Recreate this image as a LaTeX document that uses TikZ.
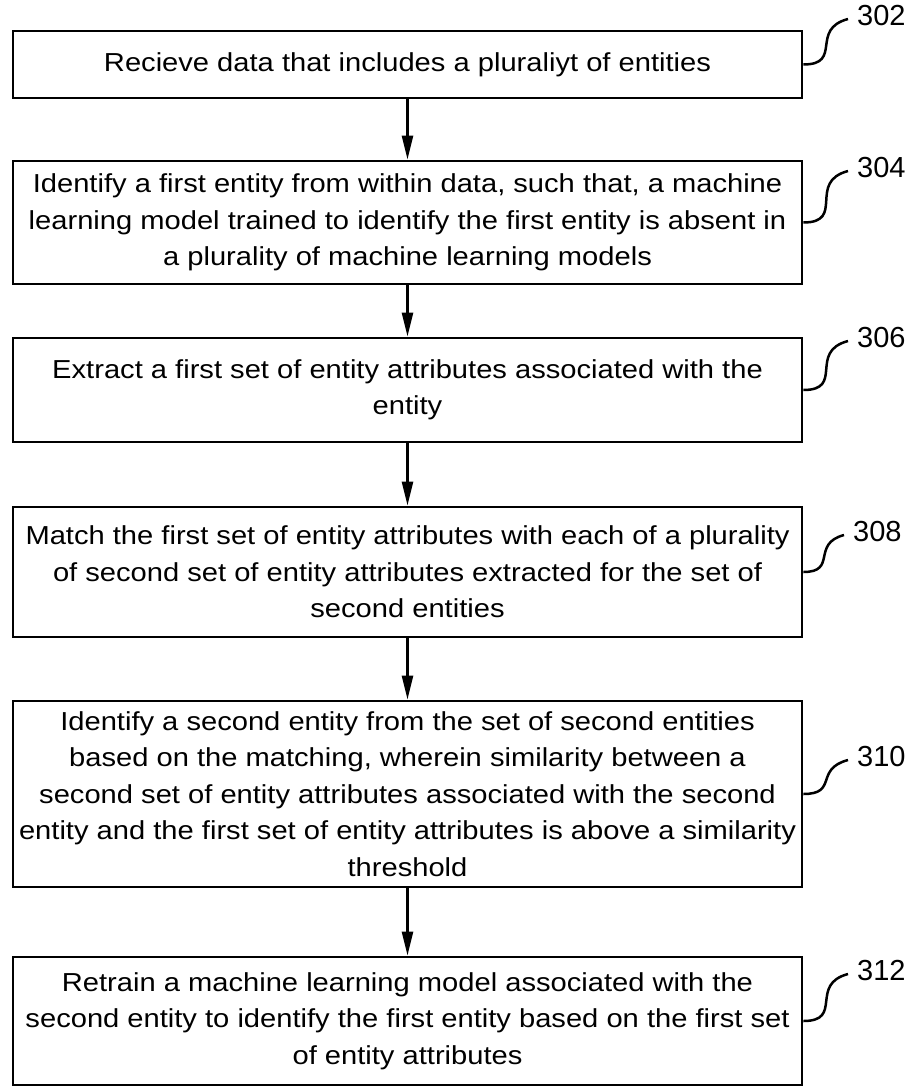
\documentclass[tikz,border=0pt]{standalone}
\usepackage{fontspec}
\setmainfont[FakeStretch=1.12]{Liberation Sans}
\newfontfamily\numfont{Liberation Sans}
\usetikzlibrary{arrows.meta}

\tikzset{
    stepbox/.style={draw, line width=2.7pt, rectangle, minimum width=789pt,
        align=center, inner sep=0pt, font=\fontsize{26}{36.5}\selectfont},
    reflabel/.style={anchor=west, inner sep=0pt, font=\numfont\fontsize{29}{29}\selectfont},
    flow/.style={-{Triangle[length=24pt,width=11pt]}, line width=2.5pt},
    leader/.style={line width=2.5pt, out=0, in=195, looseness=1.6}
}

\begin{document}
\begin{tikzpicture}[x=1pt, y=1pt]

        \useasboundingbox (0,0) rectangle (910,-1086);

        \node[stepbox, minimum height=67pt] (recv) at (407.5,-64.5)
        {Recieve data that includes a pluraliyt of entities};

        \node[stepbox, minimum height=123pt] (ident) at (407.5,-222.5)
        {Identify a first entity from within data, such that, a machine\\
        learning model trained to identify the first entity is absent in\\
        a plurality of machine learning models};

        \node[stepbox, minimum height=104pt] (extract) at (407.5,-390)
        {Extract a first set of entity attributes associated with the\\
        entity};

        \node[stepbox, minimum height=130pt] (match) at (407.5,-572)
        {Match the first set of entity attributes with each of a plurality\\
        of second set of entity attributes extracted for the set of\\
        second entities};

        \node[stepbox, minimum height=186pt] (select) at (407.5,-794)
        {Identify a second entity from the set of second entities\\
        based on the matching, wherein similarity between a\\
        second set of entity attributes associated with the second\\
        entity and the first set of entity attributes is above a similarity\\
        threshold};

        \node[stepbox, minimum height=128pt] (retrain) at (407.5,-1021)
        {Retrain a machine learning model associated with the\\
        second entity to identify the first entity based on the first set\\
        of entity attributes};

        % #######################################

        \node[reflabel] (l302) at (857,-16) {302};
        \node[reflabel] (l304) at (857,-168) {304};
        \node[reflabel] (l306) at (857,-338) {306};
        \node[reflabel] (l308) at (853,-532) {308};
        \node[reflabel] (l310) at (857,-757) {310};
        \node[reflabel] (l312) at (857,-971) {312};

        \draw[leader] (recv.east) to ([xshift=-9pt,yshift=-3pt]l302.west);
        \draw[leader] (ident.east) to ([xshift=-9pt,yshift=-3pt]l304.west);
        \draw[leader] (extract.east) to ([xshift=-9pt,yshift=-3pt]l306.west);
        \draw[leader] (match.east) to ([xshift=-9pt,yshift=-3pt]l308.west);
        \draw[leader] (select.east) to ([xshift=-9pt,yshift=-3pt]l310.west);
        \draw[leader] (retrain.east) to ([xshift=-9pt,yshift=-3pt]l312.west);

        % #######################################

        \draw[flow] (recv.south) -- (ident.north);
        \draw[flow] (ident.south) -- (extract.north);
        \draw[flow] (extract.south) -- (match.north);
        \draw[flow] (match.south) -- (select.north);
        \draw[flow] (select.south) -- (retrain.north);

    \end{tikzpicture}
\end{document}
